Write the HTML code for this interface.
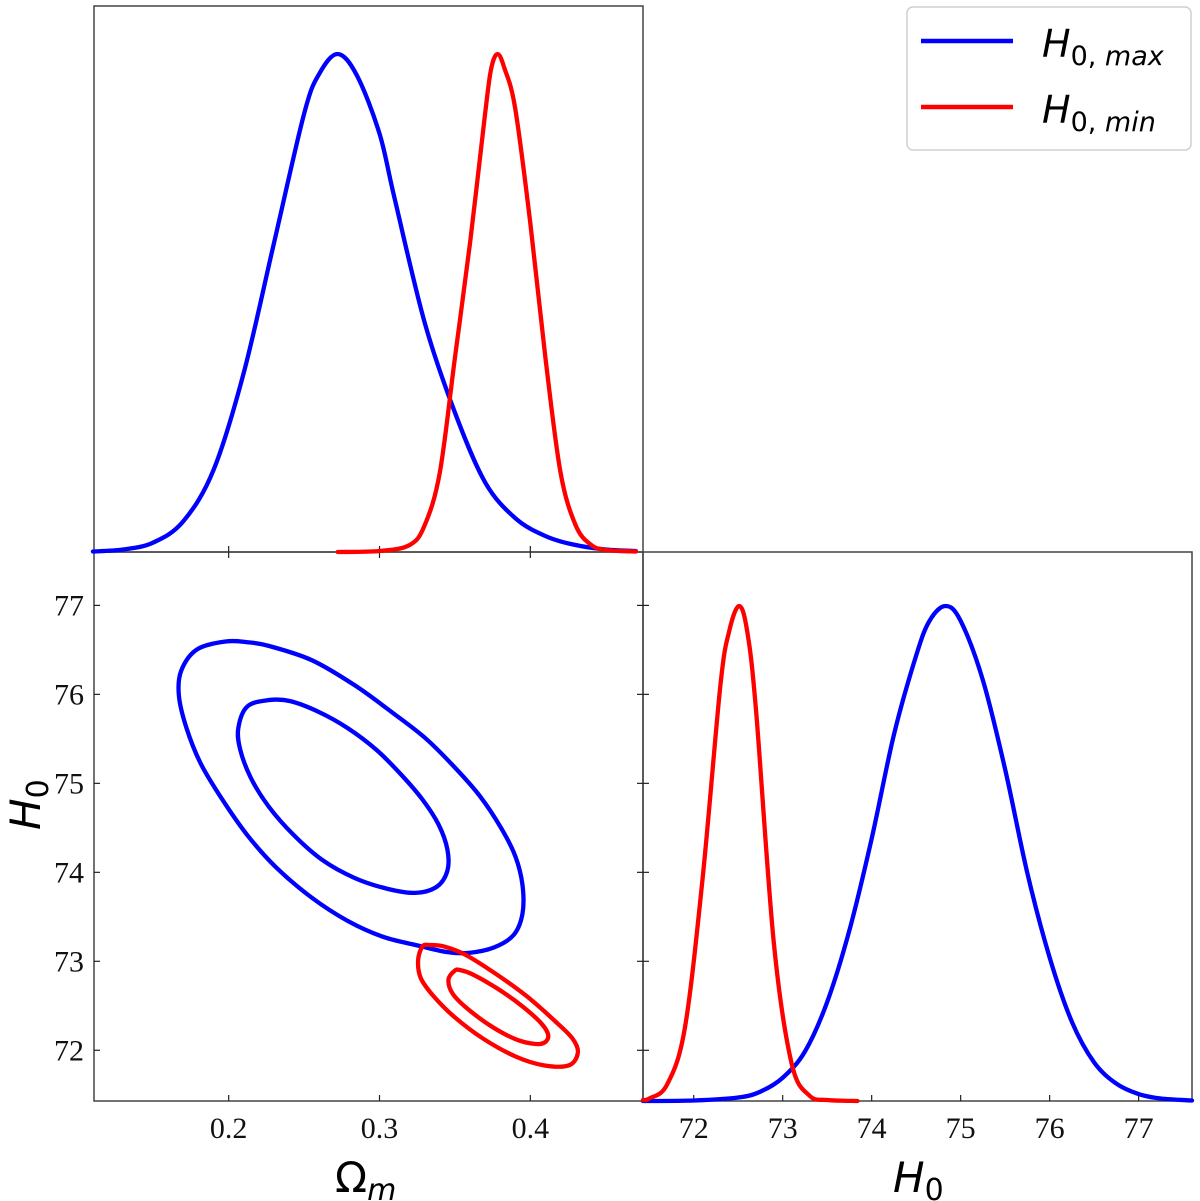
<!DOCTYPE html>
<html><head><meta charset="utf-8"><style>
html,body{margin:0;padding:0;background:#fff;}
svg{display:block;}
.tick{font-family:"Liberation Serif",serif;font-size:30px;fill:#111;}
.math{font-family:"DejaVu Sans",sans-serif;fill:#000;}
</style></head><body>
<svg id="chart" width="1200" height="1201" viewBox="0 0 1200 1201" xmlns="http://www.w3.org/2000/svg">
<g id="frames"></g>
<g id="marks"></g>
<g id="labels"></g>
<g>
  <rect x="907" y="7" width="284" height="143" rx="6" fill="#fff" stroke="#d0d0d0" stroke-width="1.5"/>
  <line x1="921" y1="41" x2="1013" y2="41" stroke="#0000ff" stroke-width="4.5"/>
  <line x1="921" y1="107" x2="1013" y2="107" stroke="#ff0000" stroke-width="4.5"/>
  <text class="math" x="1042" y="57" font-size="38" font-style="italic">H<tspan font-size="27" font-style="normal" dy="8">0,</tspan><tspan font-size="27" font-style="italic"> max</tspan></text>
  <text class="math" x="1042" y="123" font-size="38" font-style="italic">H<tspan font-size="27" font-style="normal" dy="8">0,</tspan><tspan font-size="27" font-style="italic"> min</tspan></text>
</g>
</svg>
<script>
// ---- data ----
const omTicks = [0.2, 0.3, 0.4];
const h0Ticks = [72, 73, 74, 75, 76, 77];
// Omega_m marginal (relative density)
const omGrid = [0.11,0.13,0.15,0.17,0.19,0.21,0.23,0.25,0.26,0.2723,0.285,0.30,0.31,0.33,0.35,0.37,0.39,0.41,0.43,0.45,0.47];
const omBlue = [0.001,0.005,0.019,0.062,0.165,0.36,0.62,0.88,0.96,1.0,0.957,0.84,0.71,0.46,0.28,0.14,0.068,0.032,0.014,0.005,0.002];
const omRedGrid = [0.2723,0.30,0.32,0.33,0.34,0.35,0.36,0.37,0.374,0.3783,0.383,0.39,0.40,0.41,0.42,0.43,0.44,0.45,0.47];
const omRed = [0.0,0.002,0.014,0.054,0.16,0.39,0.62,0.88,0.97,1.0,0.97,0.89,0.66,0.39,0.16,0.054,0.015,0.004,0.001];
// H0 marginal
const hBlueGrid = [71.43,72.0,72.5,72.75,73.0,73.25,73.5,73.75,74.0,74.25,74.5,74.65,74.83,75.0,75.25,75.5,75.75,76.0,76.25,76.5,76.75,77.0,77.25,77.6];
const hBlue = [0,0.001,0.007,0.019,0.047,0.10,0.2,0.345,0.53,0.74,0.9,0.97,1.0,0.97,0.85,0.67,0.46,0.29,0.16,0.078,0.035,0.014,0.005,0.001];
const hRedGrid = [71.43,71.5,71.7,71.9,72.1,72.3,72.4,72.51,72.6,72.7,72.9,73.1,73.3,73.5,73.84];
const hRed = [0.002,0.005,0.033,0.147,0.45,0.84,0.95,1.0,0.95,0.79,0.32,0.076,0.011,0.002,0.0];
// 2D contours (Omega_m, H0)
const blueOuterOm = [0.198,0.179,0.1685,0.167,0.172,0.1815,0.1957,0.2123,0.2313,0.2550,0.2787,0.3024,0.3261,0.3450,0.3593,0.3758,0.3889,0.3948,0.3948,0.3901,0.3806,0.3664,0.3498,0.3308,0.3095,0.2834,0.2550,0.2265,0.2123];
const blueOuterH = [76.594,76.505,76.265,75.984,75.623,75.221,74.820,74.419,74.058,73.716,73.456,73.275,73.175,73.103,73.095,73.155,73.295,73.536,73.857,74.178,74.499,74.860,75.181,75.502,75.783,76.104,76.385,76.545,76.586];
const blueInnerOm = [0.2265,0.2123,0.2064,0.2076,0.2147,0.2265,0.2431,0.2621,0.2834,0.3047,0.3237,0.3379,0.3450,0.3450,0.3391,0.3284,0.3142,0.2976,0.2787,0.2597,0.2408];
const blueInnerH = [75.936,75.863,75.623,75.382,75.061,74.740,74.419,74.138,73.937,73.817,73.769,73.837,74.017,74.258,74.539,74.820,75.101,75.382,75.623,75.803,75.924];
const redOuterOm = [0.3285,0.3256,0.3273,0.3356,0.3498,0.3687,0.3901,0.4090,0.4256,0.4315,0.4280,0.4161,0.3972,0.3758,0.3569,0.3427,0.3332];
const redOuterH = [73.167,73.014,72.814,72.613,72.372,72.131,71.931,71.831,71.831,71.971,72.131,72.332,72.613,72.874,73.074,73.167,73.183];
const redInnerOm = [0.3498,0.3457,0.3486,0.3593,0.3758,0.3924,0.4066,0.4119,0.4078,0.3948,0.3782,0.3616,0.3533];
const redInnerH = [72.894,72.794,72.633,72.453,72.252,72.111,72.071,72.151,72.292,72.493,72.693,72.854,72.902];

// ---- layout / axes ----
const L = 94, M = 643, R = 1192, T = 6, MID = 552, B = 1101;
const omMin = 0.1107, omMax = 0.4747, hMin = 71.43, hMax = 77.6;
const xOm = v => L + (v - omMin) / (omMax - omMin) * (M - L);
const yH = v => B - (v - hMin) / (hMax - hMin) * (B - MID);
const xH = v => M + (v - hMin) / (hMax - hMin) * (R - M);
const yTop = d => MID - d * 498;
const yBR = d => B - d * 495;
const NS = 'http://www.w3.org/2000/svg';
function mk(tag, attrs, parent) { const e = document.createElementNS(NS, tag); for (const k in attrs) e.setAttribute(k, attrs[k]); parent.appendChild(e); return e; }
function cr(pts, closed) {
  const n = pts.length; let d = 'M' + pts[0][0].toFixed(2) + ',' + pts[0][1].toFixed(2);
  const g = i => closed ? pts[(i + n) % n] : pts[Math.max(0, Math.min(n - 1, i))];
  const last = closed ? n : n - 1;
  for (let i = 0; i < last; i++) {
    const p0 = g(i - 1), p1 = g(i), p2 = g(i + 1), p3 = g(i + 2);
    const c1 = [p1[0] + (p2[0] - p0[0]) / 6, p1[1] + (p2[1] - p0[1]) / 6];
    const c2 = [p2[0] - (p3[0] - p1[0]) / 6, p2[1] - (p3[1] - p1[1]) / 6];
    d += 'C' + c1.map(v => v.toFixed(2)).join(',') + ' ' + c2.map(v => v.toFixed(2)).join(',') + ' ' + p2[0].toFixed(2) + ',' + p2[1].toFixed(2);
  }
  return d + (closed ? 'Z' : '');
}
const frames = document.getElementById('frames');
const marks = document.getElementById('marks');
const labels = document.getElementById('labels');
function panel(x, y, w, h, name) {
  const r = mk('rect', { x: x, y: y, width: w, height: h, fill: 'none', stroke: '#444', 'stroke-width': 1.5 }, frames);
  
  
}
panel(L, T, M - L, MID - T, 'omega-marginal-panel');
panel(L, MID, M - L, B - MID, 'joint-contour-panel');
panel(M, MID, R - M, B - MID, 'h0-marginal-panel');
function tick(x1, y1, x2, y2, name) {
  const t = mk('line', { x1: x1, y1: y1, x2: x2, y2: y2, stroke: '#222', 'stroke-width': 1.2 }, frames);
  
  
}
omTicks.forEach(v => {
  const x = xOm(v);
  tick(x, MID, x, MID - 6, 'top-panel-x-tick');
  tick(x, MID, x, MID + 6, 'joint-top-tick');
  tick(x, B, x, B - 6, 'omega-x-tick');
  const t = mk('text', { x: x, y: 1138, 'text-anchor': 'middle', class: 'tick' }, labels);
  t.textContent = v.toFixed(1);
  
  
});
h0Ticks.forEach(v => {
  const y = yH(v);
  tick(L, y, L + 6, y, 'h0-y-tick');
  tick(M, y, M - 6, y, 'joint-right-tick');
  tick(M, y, M + 6, y, 'marginal-left-tick');
  const t = mk('text', { x: 84, y: y + 10, 'text-anchor': 'end', class: 'tick' }, labels);
  t.textContent = v;
  
  
  const x = xH(v);
  tick(x, B, x, B - 6, 'h0-x-tick');
  const t2 = mk('text', { x: x, y: 1138, 'text-anchor': 'middle', class: 'tick' }, labels);
  t2.textContent = v;
  
  
});
function curve(d, color, name) {
  const p = mk('path', { d: d, fill: 'none', stroke: color, 'stroke-width': 4.3, 'stroke-linejoin': 'round', 'stroke-linecap': 'round' }, marks);
  
  
}
curve(cr(omGrid.map((v, i) => [xOm(v), yTop(omBlue[i])]), false), '#0000ff', 'omega-marginal-max');
curve(cr(omRedGrid.map((v, i) => [xOm(v), yTop(omRed[i])]), false), '#ff0000', 'omega-marginal-min');
curve(cr(hBlueGrid.map((v, i) => [xH(v), yBR(hBlue[i])]), false), '#0000ff', 'h0-marginal-max');
curve(cr(hRedGrid.map((v, i) => [xH(v), yBR(hRed[i])]), false), '#ff0000', 'h0-marginal-min');
curve(cr(blueOuterOm.map((v, i) => [xOm(v), yH(blueOuterH[i])]), true), '#0000ff', 'contour-max-95');
curve(cr(blueInnerOm.map((v, i) => [xOm(v), yH(blueInnerH[i])]), true), '#0000ff', 'contour-max-68');
curve(cr(redOuterOm.map((v, i) => [xOm(v), yH(redOuterH[i])]), true), '#ff0000', 'contour-min-95');
curve(cr(redInnerOm.map((v, i) => [xOm(v), yH(redInnerH[i])]), true), '#ff0000', 'contour-min-68');
</script>
<div style="position:absolute;left:0;top:0;width:1200px;height:1201px;pointer-events:none;">
<svg width="1200" height="1201" xmlns="http://www.w3.org/2000/svg">
  <text class="math" x="335" y="1192" font-size="42">Ω<tspan font-size="30" font-style="italic" dy="8">m</tspan></text>
  <text class="math" x="893" y="1192" font-size="42" font-style="italic">H<tspan font-size="30" font-style="normal" dy="8">0</tspan></text>
  <text class="math" transform="translate(40,830) rotate(-90)" font-size="42" font-style="italic">H<tspan font-size="30" font-style="normal" dy="8">0</tspan></text>
</svg>
</div>
</body></html>
